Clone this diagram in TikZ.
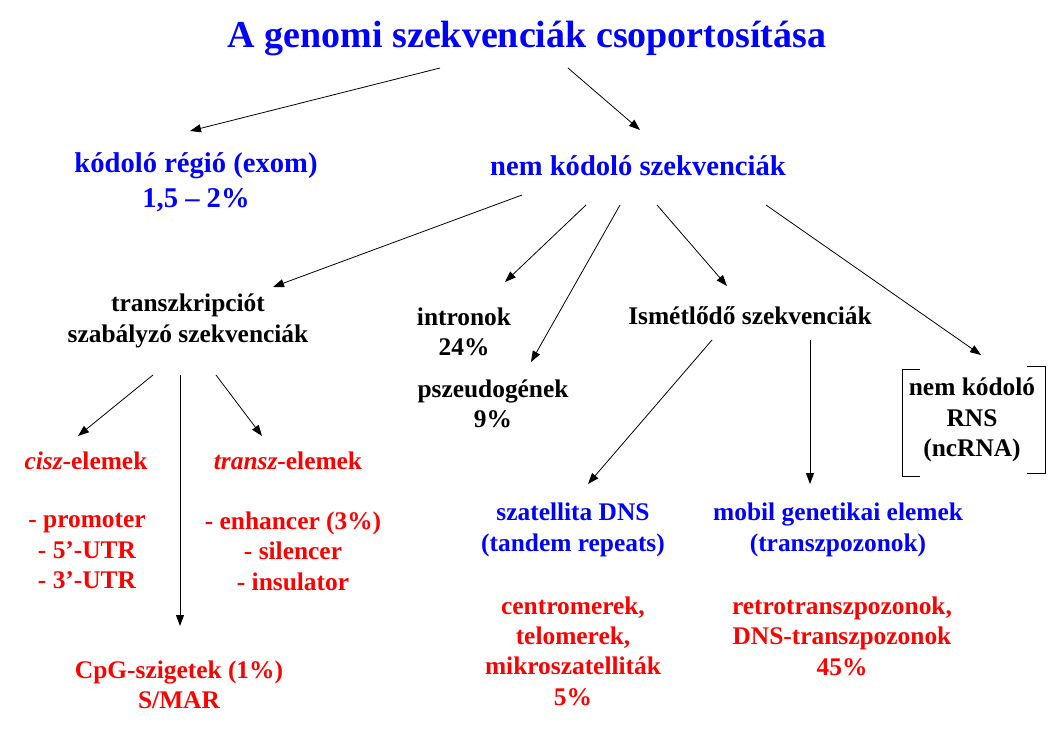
\documentclass[tikz,border=0pt]{standalone}
\usepackage{fontspec}
\setmainfont{Liberation Serif}
\usetikzlibrary{arrows.meta,calc}
\definecolor{slideblue}{RGB}{0,0,255}
\definecolor{slidered}{RGB}{255,0,0}
\tikzset{
	headtxt/.style={text=slideblue, font=\bfseries\fontsize{38}{44}\selectfont, inner sep=0pt, align=center},
	toptxt/.style={text=slideblue, font=\bfseries\fontsize{28.6}{35}\selectfont, inner sep=0pt, align=center},
	blacktxt/.style={text=black, font=\bfseries\fontsize{25.4}{30.4}\selectfont, inner sep=0pt, align=center},
	bluetxt/.style={blacktxt, text=slideblue},
	redtxt/.style={blacktxt, text=slidered},
	arr/.style={-{Triangle[length=11pt,width=8pt]}, line width=0.8pt},
}
\begin{document}
\begin{tikzpicture}[x=1pt, y=-1pt]
	\useasboundingbox (0,0) rectangle (1056,742);
	% Nodes:
	\node[headtxt] (title) at (527, 38){A genomi szekvenciák csoportosítása};
	\node[toptxt] (exom) at (196, 182){kódoló régió (exom)\\1,5 – 2\%};
	\node[toptxt] (nemkod) at (638, 166){nem kódoló szekvenciák};
	\node[blacktxt] (transzkr) at (188, 321){transzkripciót\\szabályzó szekvenciák};
	\node[blacktxt] (intron) at (464, 332){intronok\\24\%};
	\node[blacktxt] (pszeudo) at (493, 404){pszeudogének\\9\%};
	\node[blacktxt] (ismetlo) at (750, 316){Ismétlődő szekvenciák};
	\node[blacktxt] (ncrna) at (972, 420){nem kódoló\\RNS\\(ncRNA)};
	\node[redtxt] (cisz) at (86, 461){\textit{cisz}-elemek};
	\node[redtxt] (transz) at (288, 461){\textit{transz}-elemek};
	\node[redtxt] (ciszlist) at (87, 551){- promoter\\- 5’-UTR\\- 3’-UTR};
	\node[redtxt] (transzlist) at (293, 551){- enhancer (3\%)\\- silencer\\- insulator};
	\node[redtxt] (cpg) at (179, 685){CpG-szigetek (1\%)\\S/MAR};
	\node[bluetxt] (szatell) at (573, 530){szatellita DNS\\(tandem repeats)};
	\node[bluetxt] (mobil) at (838, 530){mobil genetikai elemek\\(transzpozonok)};
	\node[redtxt] (szatlist) at (573, 651){centromerek,\\telomerek,\\mikroszatelliták\\5\%};
	\node[redtxt] (mobillist) at (842, 636){retrotranszpozonok,\\DNS-transzpozonok\\45\%};
	% Bracket round ncRNA:
	\draw[line width=0.8pt] ($(ncrna)+(-52,-51)$) -- ($(ncrna)+(-70,-51)$) -- ($(ncrna)+(-70,56)$) -- ($(ncrna)+(-52,56)$);
	\draw[line width=0.8pt] ($(ncrna)+(55,-54)$) -- ($(ncrna)+(73,-54)$) -- ($(ncrna)+(73,53)$) -- ($(ncrna)+(55,53)$);
	% Arrows:
	\draw[arr] ($(title)+(-87,30)$) -- ($(exom)+(-6,-51)$);
	\draw[arr] ($(title)+(41,30)$) -- ($(nemkod)+(2,-36)$);
	\draw[arr] ($(nemkod)+(-116,29)$) -- ($(transzkr)+(85,-34)$);
	\draw[arr] ($(nemkod)+(-52,39)$) -- ($(intron)+(41,-50)$);
	\draw[arr] ($(nemkod)+(-18,39)$) -- ($(pszeudo)+(38,-42)$);
	\draw[arr] ($(nemkod)+(19,39)$) -- ($(ismetlo)+(-23,-30)$);
	\draw[arr] ($(nemkod)+(128,39)$) -- ($(ncrna)+(9,-65)$);
	\draw[arr] ($(transzkr)+(-35,54)$) -- ($(cisz)+(-8,-25)$);
	\draw[arr] ($(transzkr)+(-8,54)$) -- ($(cpg)+(1,-59)$);
	\draw[arr] ($(transzkr)+(28,54)$) -- ($(transz)+(-26,-25)$);
	\draw[arr] ($(ismetlo)+(-38,24)$) -- ($(szatell)+(15,-46)$);
	\draw[arr] ($(ismetlo)+(60,24)$) -- ($(mobil)+(-28,-46)$);
\end{tikzpicture}
\end{document}
